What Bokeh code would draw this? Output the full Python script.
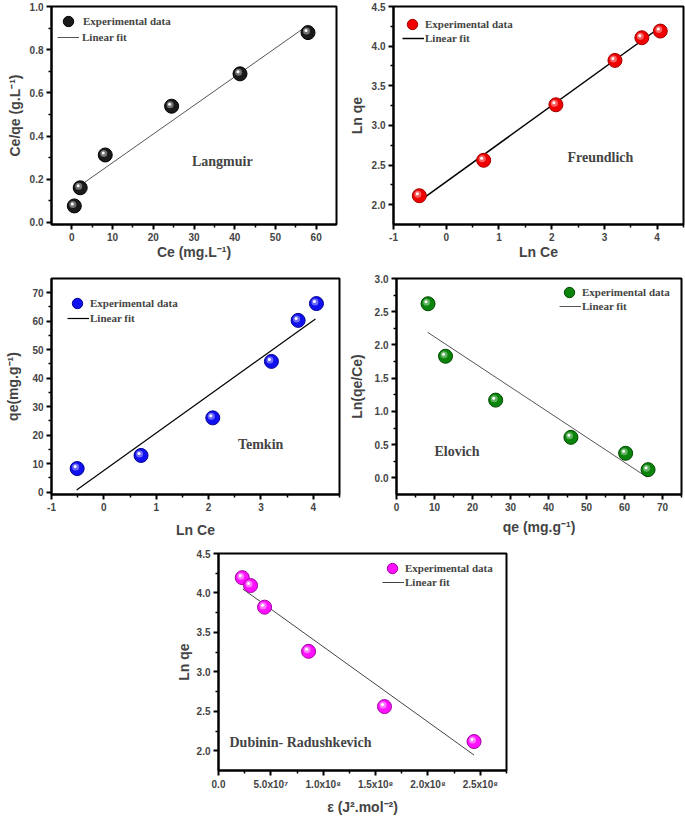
from bokeh.plotting import figure
from bokeh.models import (Range1d, FixedTicker, Legend, LegendItem, Label, Spacer,
                          ColumnDataSource, NumeralTickFormatter)
from bokeh.layouts import column, row
from bokeh.embed import file_html
from bokeh.resources import INLINE
from bokeh.transform import dodge

# ---------------- data ----------------
# Langmuir
ce = [0.6, 2.05, 8.2, 24.5, 41.3, 58.0]
ce_over_qe = [0.076, 0.16, 0.312, 0.538, 0.688, 0.879]
langmuir_fit_x = [0.7, 57.6]
langmuir_fit_y = [0.153, 0.908]

# Freundlich
ln_ce = [-0.51, 0.71, 2.08, 3.2, 3.71, 4.06]
ln_qe = [2.113, 2.56, 3.26, 3.82, 4.106, 4.19]
freundlich_fit_x = [-0.49, 4.0]
freundlich_fit_y = [2.054, 4.21]

# Temkin
qe = [8.3, 12.9, 26.1, 45.9, 60.3, 66.2]
temkin_fit_x = [-0.52, 4.04]
temkin_fit_y = [0.8, 60.8]

# Elovich
ln_qe_ce = [2.62, 1.83, 1.17, 0.61, 0.37, 0.124]
elovich_fit_x = [8.2, 65.8]
elovich_fit_y = [2.19, 0.015]

# Dubinin-Radushkevich
eps2 = [2.27e7, 3.06e7, 4.4e7, 8.6e7, 1.585e8, 2.44e8]
ln_qe_dr = [4.194, 4.094, 3.82, 3.26, 2.56, 2.117]
dr_fit_x = [2.33e7, 2.44e8]
dr_fit_y = [4.05, 1.946]

dr_tick_vals = [0, 5e7, 1e8, 1.5e8, 2e8, 2.5e8]
dr_tick_labels = ["0.0", "5.0x10\u2077", "1.0x10\u2078", "1.5x10\u2078", "2.0x10\u2078", "2.5x10\u2078"]
lnce_tick_vals = [-1, 0, 1, 2, 3, 4]
lnce_tick_labels = ["-1", "0", "1", "2", "3", "4"]

SANS = "Liberation Sans"
SERIF = "Liberation Serif"


def make_fig(width, height, bl, br, bt, bb, xr, yr):
    p = figure(width=width, height=height, output_backend="svg", toolbar_location=None,
               x_range=Range1d(*xr), y_range=Range1d(*yr),
               min_border_left=bl, min_border_right=br, min_border_top=bt, min_border_bottom=bb)
    p.outline_line_color = "black"
    p.outline_line_width = 2
    p.outline_line_alpha = 1
    p.xgrid.visible = False
    p.ygrid.visible = False
    p.background_fill_color = "white"
    p.border_fill_color = "white"
    for ax in (p.xaxis[0], p.yaxis[0]):
        ax.axis_line_width = 2
        ax.major_tick_line_width = 2
        ax.minor_tick_line_width = 1.5
        ax.major_tick_out = 5
        ax.major_tick_in = 0
        ax.minor_tick_out = 3
        ax.minor_tick_in = 0
        ax.major_label_text_font = SANS
        ax.major_label_text_font_style = "bold"
        ax.major_label_text_font_size = "10px"
        ax.major_label_standoff = 3
        ax.axis_label_text_font = SANS
        ax.axis_label_text_font_style = "bold"
        ax.axis_label_text_font_size = "14px"
        ax.axis_label_standoff = 4
    return p


def ticks(p, xt, xm, yt, ym):
    p.xaxis[0].ticker = FixedTicker(ticks=xt, minor_ticks=xm)
    p.yaxis[0].ticker = FixedTicker(ticks=yt, minor_ticks=ym)


def style_legend(leg, gw, gh, standoff):
    leg.border_line_alpha = 0
    leg.background_fill_alpha = 0
    leg.label_text_font = SERIF
    leg.label_text_font_style = "bold"
    leg.label_text_font_size = "11px"
    leg.glyph_width = gw
    leg.glyph_height = gh
    leg.label_height = gh
    leg.label_standoff = standoff
    leg.spacing = 0
    leg.padding = 0
    leg.margin = 0


def add_data(p, x, y, fx, fy, fw, fh, colors, line_color, line_width, leg_pos):
    main, edge, tint = colors
    src = ColumnDataSource(dict(x=x, y=y))
    xr, yr = p.x_range, p.y_range
    dxp = (xr.end - xr.start) / fw
    dyp = (yr.end - yr.start) / fh
    rl = p.line(fx, fy, line_color=line_color, line_width=line_width)
    rb = p.scatter("x", "y", source=src, size=14, fill_color=main, line_color=edge, line_width=1)
    p.scatter(x=dodge("x", -1.5 * dxp), y=dodge("y", 1.5 * dyp), source=src, size=7,
              fill_color=tint, fill_alpha=0.55, line_alpha=0)
    p.scatter(x=dodge("x", -2.0 * dxp), y=dodge("y", 2.0 * dyp), source=src, size=3,
              fill_color="white", line_alpha=0)
    # leg_pos: marker centre (mx, my), text start t1, line start lx, line y ly, text start t2
    mx, my, t1, lx, ly, t2 = leg_pos
    gA = 26
    legA = Legend(items=[LegendItem(label="Experimental data", renderers=[rb])],
                  location=(mx - gA // 2, fh - my - gA // 2))
    style_legend(legA, gA, gA, t1 - (mx + gA // 2))
    gw = 22
    legB = Legend(items=[LegendItem(label="Linear fit", renderers=[rl])],
                  location=(lx, fh - ly - 7))
    style_legend(legB, gw, 14, t2 - (lx + gw))
    p.add_layout(legA)
    p.add_layout(legB)


def note(p, x, y, text):
    p.add_layout(Label(x=x, y=y, text=text, text_font=SERIF, text_font_style="bold",
                       text_font_size="14px", text_baseline="middle", text_align="left"))


# ---------- Panel 1: Langmuir ----------
p1 = make_fig(345, 270, 51, 9, 6, 46, (-5, 65), (-0.01, 1.0))
ticks(p1, list(range(0, 61, 10)), [5, 15, 25, 35, 45, 55],
      [0.0, 0.2, 0.4, 0.6, 0.8, 1.0], [0.1, 0.3, 0.5, 0.7, 0.9])
p1.yaxis[0].formatter = NumeralTickFormatter(format="0.0")
p1.xaxis[0].axis_label = "Ce (mg.L\u207b\u00b9)"
p1.yaxis[0].axis_label = "Ce/qe (g.L\u207b\u00b9)"
p1.xaxis[0].axis_label_standoff = 0
add_data(p1, ce, ce_over_qe, langmuir_fit_x, langmuir_fit_y, 285, 218,
         ("#1a1a1a", "#000000", "#bbbbbb"), "#555555", 1, (17, 15, 32, 6, 31, 31))
note(p1, 29.5, 0.28, "Langmuir")

# ---------- Panel 2: Freundlich ----------
p2 = make_fig(340, 270, 48, 2, 6, 45, (-1, 4.5), (1.75, 4.5))
ticks(p2, lnce_tick_vals, [-0.5, 0.5, 1.5, 2.5, 3.5, 4.5],
      [2.0, 2.5, 3.0, 3.5, 4.0, 4.5], [2.25, 2.75, 3.25, 3.75, 4.25])
p2.yaxis[0].formatter = NumeralTickFormatter(format="0.0")
p2.xaxis[0].major_label_overrides = {v: s for v, s in zip(lnce_tick_vals, lnce_tick_labels)}
p2.xaxis[0].axis_label = "Ln Ce"
p2.yaxis[0].axis_label = "Ln qe"
p2.xaxis[0].axis_label_standoff = 0
add_data(p2, ln_ce, ln_qe, freundlich_fit_x, freundlich_fit_y, 290, 219,
         ("#f00000", "#a00000", "#ffb0b0"), "#000000", 1.5, (19, 19, 30, 9, 33, 32))
note(p2, 2.3, 2.59, "Freundlich")

# ---------- Panel 3: Temkin ----------
p3 = make_fig(345, 275, 51, 6, 8, 48, (-1, 4.5), (-0.8, 75))
ticks(p3, lnce_tick_vals, [-0.5, 0.5, 1.5, 2.5, 3.5, 4.5],
      list(range(0, 71, 10)), [5, 15, 25, 35, 45, 55, 65])
p3.xaxis[0].major_label_overrides = {v: s for v, s in zip(lnce_tick_vals, lnce_tick_labels)}
p3.xaxis[0].axis_label = "Ln Ce"
p3.yaxis[0].axis_label = "qe(mg.g\u207b\u00b9)"
p3.xaxis[0].axis_label_standoff = 8
p3.yaxis[0].axis_label_standoff = 8
add_data(p3, ln_ce, qe, temkin_fit_x, temkin_fit_y, 288, 219,
         ("#1010f0", "#000090", "#b8b8ff"), "#000000", 1.2, (26, 28, 39, 16, 43, 39))
note(p3, 2.56, 16.6, "Temkin")

# ---------- Panel 4: Elovich ----------
p4 = make_fig(340, 275, 48, 4, 7, 51, (0, 75), (-0.25, 3.0))
ticks(p4, list(range(0, 71, 10)), [5, 15, 25, 35, 45, 55, 65, 75],
      [0.0, 0.5, 1.0, 1.5, 2.0, 2.5, 3.0], [0.25, 0.75, 1.25, 1.75, 2.25, 2.75])
p4.yaxis[0].formatter = NumeralTickFormatter(format="0.0")
p4.xaxis[0].axis_label = "qe (mg.g\u207b\u00b9)"
p4.yaxis[0].axis_label = "Ln(qe/Ce)"
p4.xaxis[0].axis_label_standoff = 5
p4.yaxis[0].axis_label_standoff = 7
add_data(p4, qe, ln_qe_ce, elovich_fit_x, elovich_fit_y, 288, 217,
         ("#0a840a", "#004800", "#a8dca8"), "#555555", 1, (173, 15, 185, 163, 29, 186))
note(p4, 10.0, 0.40, "Elovich")

# ---------- Panel 5: Dubinin-Radushkevich ----------
p5 = make_fig(366, 272, 68, 10, 8, 46, (0, 2.75e8), (1.75, 4.5))
ticks(p5, dr_tick_vals, [2.5e7, 7.5e7, 1.25e8, 1.75e8, 2.25e8, 2.75e8],
      [2.0, 2.5, 3.0, 3.5, 4.0, 4.5], [2.25, 2.75, 3.25, 3.75, 4.25])
p5.yaxis[0].formatter = NumeralTickFormatter(format="0.0")
p5.xaxis[0].major_label_overrides = {v: s for v, s in zip(dr_tick_vals, dr_tick_labels)}
p5.xaxis[0].axis_label = "\u03b5 (J\u00b2.mol\u207b\u00b2)"
p5.yaxis[0].axis_label = "Ln qe"
p5.xaxis[0].axis_label_standoff = 6
p5.yaxis[0].axis_label_standoff = 2
add_data(p5, eps2, ln_qe_dr, dr_fit_x, dr_fit_y, 288, 218,
         ("#ff10ff", "#a000a0", "#ffd0ff"), "#444444", 1, (174, 16, 187, 164, 30, 187))
note(p5, 1.05e7, 2.10, "Dubinin- Radushkevich")

layout = column(row(p1, p2), row(p3, p4), row(Spacer(width=150, height=272), p5))

open("out.html", "w").write(file_html(layout, INLINE))
